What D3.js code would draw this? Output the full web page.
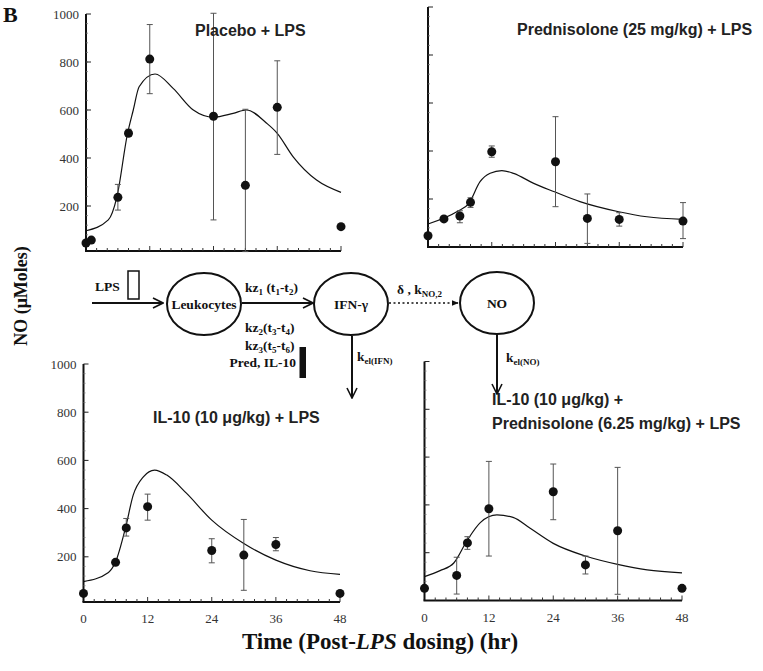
<!DOCTYPE html>
<html>
<head>
<meta charset="utf-8">
<title>NO response model</title>
<script src="https://d3js.org/d3.v7.min.js"></script>
<style>
  body { margin: 0; background: #fff; }
  .tick-lab { font-family: "Liberation Serif", serif; font-size: 13px; fill: #333; }
  .title { font-family: "Liberation Sans", Arial, sans-serif; font-weight: bold; font-size: 16px; fill: #222; }
  .fit { fill: none; stroke: #111; stroke-width: 1.2px; }
  .err { stroke: #555; stroke-width: 1px; }
  .diag { font-family: "Liberation Serif", serif; font-weight: bold; font-size: 13.5px; fill: #111; }
</style>
</head>
<body>
<svg width="763" height="671"></svg>
<script>
// times in hr, NO in uMoles
var placeboT   = [0, 1, 6, 8, 12, 24, 30, 36, 48];
var placeboObs = [46, 58, 236, 503, 812, 574, 286, 611, 114];
var placeboHi  = [null, null, 290, 520, 956, 1003, 603, 805, null];
var placeboLo  = [null, null, 183, 490, 668, 142, 10, 415, null];
var placeboFitT = [0, 4.2, 5.8, 7.8, 8.9, 10, 13, 16.4, 20.2, 24, 27.7, 30.2, 34, 36, 39, 43.4, 48];
var placeboFitV = [97, 142, 236, 500, 600, 697, 750, 690, 600, 570, 586, 600, 545, 503, 405, 308, 257];

var predT   = [0, 3, 6, 8, 12, 24, 30, 36, 48];
var predObs = [47, 117, 129, 186, 397, 355, 119, 115, 108];
var predHi  = [null, null, 151, 205, 421, 543, 221, 143, 185];
var predLo  = [null, null, 101, 165, 374, 168, 15, 87, 35];
var predFitT = [0, 5.5, 7.7, 9.8, 11.7, 13.9, 16.1, 19.9, 23.8, 28.6, 35.9, 41.2, 48];
var predFitV = [96, 148, 182, 272, 307, 318, 307, 265, 230, 189, 147, 126, 115];

var il10T   = [0, 6, 8, 12, 24, 30, 36, 48];
var il10Obs = [48, 177, 320, 408, 226, 207, 251, 48];
var il10Hi  = [null, null, 359, 460, 275, 355, 280, null];
var il10Lo  = [null, null, 286, 352, 175, 61, 225, null];
var il10FitT = [0, 4.67, 6, 7.9, 9.3, 11.2, 13.3, 15.6, 19.3, 24, 30, 36, 42.4, 48];
var il10FitV = [97, 135, 179, 324, 456, 532, 560, 539, 463, 352, 255, 186, 142, 127];

var comboT   = [0, 6, 8, 12, 24, 30, 36, 48];
var comboObs = [51, 105, 241, 384, 455, 149, 292, 51];
var comboHi  = [null, 181, 267, 582, 571, 186, 557, null];
var comboLo  = [null, 27, 214, 186, 338, 111, 26, null];
var comboFitT = [0, 2.9, 5.5, 8, 10.4, 13.5, 16.5, 19.7, 24, 30, 36, 41.5, 48];
var comboFitV = [100, 125, 158, 253, 326, 358, 348, 302, 239, 186, 151, 128, 116];

var xTickLabels = [0, 12, 24, 36, 48];
var yTickLabels = [200, 400, 600, 800, 1000];

var svg = d3.select("svg");

var panels = [
  {x0: 86, x1: 341, yZero: 254, yTop: 14, axisY: 251, ylab: true, xlab: false,
   t: placeboT, obs: placeboObs, hi: placeboHi, lo: placeboLo, ft: placeboFitT, fv: placeboFitV,
   title: ["Placebo + LPS"], tx: 195, ty: 36},
  {x0: 428, x1: 683, yZero: 247, yTop: 7, axisY: 247, ylab: false, xlab: false,
   t: predT, obs: predObs, hi: predHi, lo: predLo, ft: predFitT, fv: predFitV,
   title: ["Prednisolone (25 mg/kg) + LPS"], tx: 517, ty: 35},
  {x0: 83.5, x1: 340, yZero: 605, yTop: 364, axisY: 602, ylab: true, xlab: true,
   t: il10T, obs: il10Obs, hi: il10Hi, lo: il10Lo, ft: il10FitT, fv: il10FitV,
   title: ["IL-10 (10 \u03bcg/kg) + LPS"], tx: 153, ty: 423},
  {x0: 424.5, x1: 682, yZero: 600.5, yTop: 361.5, axisY: 600.5, ylab: false, xlab: true,
   t: comboT, obs: comboObs, hi: comboHi, lo: comboLo, ft: comboFitT, fv: comboFitV,
   title: ["IL-10 (10 \u03bcg/kg) +", "Prednisolone (6.25 mg/kg) + LPS"], tx: 492, ty: 405}
];

panels.forEach(function(p){
  var x = d3.scaleLinear().domain([0, 48]).range([p.x0, p.x1]);
  var y = d3.scaleLinear().domain([0, 1000]).range([p.yZero, p.yTop]);
  var g = svg.append("g");

  // y axis: line, major ticks every 200, minor every 40 (inward)
  g.append("line").attr("x1", p.x0).attr("x2", p.x0)
    .attr("y1", y(1000)).attr("y2", p.axisY)
    .style("stroke", "#111").style("stroke-width", 2);
  g.selectAll(".ymin").data(d3.range(40, 1000, 40)).enter().append("line")
    .attr("x1", p.x0).attr("x2", p.x0 + 2)
    .attr("y1", function(d){ return y(d); }).attr("y2", function(d){ return y(d); })
    .style("stroke", "#777").style("stroke-width", 0.8);
  g.selectAll(".ymaj").data(yTickLabels).enter().append("line")
    .attr("x1", p.x0).attr("x2", p.x0 + 5)
    .attr("y1", function(d){ return y(d); }).attr("y2", function(d){ return y(d); })
    .style("stroke", "#222").style("stroke-width", 1);
  if (p.ylab) {
    g.selectAll(".ylab").data(yTickLabels).enter().append("text")
      .attr("class", "tick-lab")
      .attr("x", p.x0 - 7).attr("y", function(d){ return y(d) + 4.5; })
      .attr("text-anchor", "end").text(function(d){ return d; });
  }

  // x axis: ticks every 2 hr, up
  g.append("line").attr("x1", p.x0 - 1).attr("x2", p.x1)
    .attr("y1", p.axisY).attr("y2", p.axisY)
    .style("stroke", "#111").style("stroke-width", 2);
  g.selectAll(".xt").data(d3.range(2, 49, 2)).enter().append("line")
    .attr("x1", function(d){ return x(d); }).attr("x2", function(d){ return x(d); })
    .attr("y1", p.axisY).attr("y2", function(d){ return p.axisY - (d % 12 === 0 ? 5 : 3); })
    .style("stroke", "#333").style("stroke-width", 1);
  if (p.xlab) {
    g.selectAll(".xlab").data(xTickLabels).enter().append("text")
      .attr("class", "tick-lab")
      .attr("x", function(d){ return x(d); }).attr("y", p.axisY + 21)
      .attr("text-anchor", "middle").text(function(d){ return d; });
  }

  // fitted curve
  var fit = p.ft.map(function(t, i){ return [t, p.fv[i]]; });
  g.append("path").attr("class", "fit")
    .attr("d", d3.line().x(function(d){ return x(d[0]); }).y(function(d){ return y(d[1]); })
      .curve(d3.curveMonotoneX)(fit));

  // error bars
  var obs = p.t.map(function(t, i){ return {t: t, v: p.obs[i], hi: p.hi[i], lo: p.lo[i]}; });
  var eb = obs.filter(function(d){ return d.hi !== null; });
  g.selectAll(".ev").data(eb).enter().append("line").attr("class", "err")
    .attr("x1", function(d){ return x(d.t); }).attr("x2", function(d){ return x(d.t); })
    .attr("y1", function(d){ return y(d.hi); })
    .attr("y2", function(d){ return Math.min(y(d.lo), p.axisY); });
  ["hi", "lo"].forEach(function(k){
    g.selectAll(".cap" + k).data(eb).enter().append("line").attr("class", "err")
      .attr("x1", function(d){ return x(d.t) - 3; }).attr("x2", function(d){ return x(d.t) + 3; })
      .attr("y1", function(d){ return y(d[k]); }).attr("y2", function(d){ return y(d[k]); });
  });

  // observations
  g.selectAll(".pt").data(obs).enter().append("circle")
    .attr("cx", function(d){ return x(d.t); }).attr("cy", function(d){ return y(d.v); })
    .attr("r", 4.5).style("fill", "#111");

  // panel title
  g.selectAll(".ttl").data(p.title).enter().append("text").attr("class", "title")
    .attr("x", p.tx).attr("y", function(d, i){ return p.ty + i * 24; })
    .text(function(d){ return d; });
});

// ---- model diagram ----
var defs = svg.append("defs");
defs.append("marker").attr("id", "open").attr("viewBox", "0 0 12 12")
  .attr("refX", 11).attr("refY", 6).attr("markerWidth", 12).attr("markerHeight", 12)
  .attr("markerUnits", "userSpaceOnUse").attr("orient", "auto")
  .append("path").attr("d", "M1,1 L11,6 L1,11").style("fill", "none")
  .style("stroke", "#111").style("stroke-width", 1.6);
defs.append("marker").attr("id", "solid").attr("viewBox", "0 0 10 10")
  .attr("refX", 9).attr("refY", 5).attr("markerWidth", 7).attr("markerHeight", 7)
  .attr("markerUnits", "userSpaceOnUse").attr("orient", "auto")
  .append("path").attr("d", "M0,1 L10,5 L0,9 Z").style("fill", "#111");

var nodes = [
  {name: "Leukocytes", cx: 204, cy: 304},
  {name: "IFN-\u03b3", cx: 351, cy: 304},
  {name: "NO", cx: 497, cy: 303}
];
svg.selectAll(".node").data(nodes).enter().append("ellipse")
  .attr("cx", function(d){ return d.cx; }).attr("cy", function(d){ return d.cy; })
  .attr("rx", 37).attr("ry", 31)
  .style("fill", "none").style("stroke", "#111").style("stroke-width", 2);
svg.selectAll(".nodelab").data(nodes).enter().append("text").attr("class", "diag")
  .attr("x", function(d){ return d.cx; }).attr("y", function(d){ return d.cy + 4.5; })
  .attr("text-anchor", "middle").style("font-size", "13.5px")
  .text(function(d){ return d.name; });

var arrows = [
  {x1: 92, y1: 303, x2: 163, y2: 303, m: "open", dash: null},
  {x1: 242, y1: 303, x2: 313, y2: 303, m: "open", dash: null},
  {x1: 389, y1: 303, x2: 458, y2: 303, m: "solid", dash: "2,2.5"},
  {x1: 352, y1: 336, x2: 352, y2: 398, m: "open", dash: null},
  {x1: 497, y1: 334, x2: 497, y2: 394, m: "open", dash: null}
];
svg.selectAll(".arr").data(arrows).enter().append("line")
  .attr("x1", function(d){ return d.x1; }).attr("y1", function(d){ return d.y1; })
  .attr("x2", function(d){ return d.x2; }).attr("y2", function(d){ return d.y2; })
  .attr("marker-end", function(d){ return "url(#" + d.m + ")"; })
  .style("stroke", "#111").style("stroke-width", function(d){ return d.dash ? 1.5 : 2; })
  .style("stroke-dasharray", function(d){ return d.dash; });

// LPS bolus and inhibition bar
svg.append("rect").attr("x", 128).attr("y", 271).attr("width", 11).attr("height", 28)
  .style("fill", "#fff").style("stroke", "#111").style("stroke-width", 1.5);
svg.append("rect").attr("x", 299.5).attr("y", 347).attr("width", 6.5).attr("height", 31)
  .style("fill", "#111");

function subLabel(x, y, parts, anchor) {
  var t = svg.append("text").attr("class", "diag").attr("x", x).attr("y", y)
    .attr("text-anchor", anchor || "start");
  parts.forEach(function(p){
    var s = t.append("tspan").text(p[0]);
    if (p[1] === "sub") s.style("font-size", "9px").attr("baseline-shift", "-3");
  });
  return t;
}
subLabel(95, 291, [["LPS"]]);
subLabel(245, 292, [["kz"], ["1", "sub"], [" (t"], ["1", "sub"], ["-t"], ["2", "sub"], [")"]]);
subLabel(245, 332, [["kz"], ["2", "sub"], ["(t"], ["3", "sub"], ["-t"], ["4", "sub"], [")"]]);
subLabel(245, 350, [["kz"], ["3", "sub"], ["(t"], ["5", "sub"], ["-t"], ["6", "sub"], [")"]]);
subLabel(296, 367, [["Pred, IL-10"]], "end");
subLabel(397, 294, [["\u03b4 , k"], ["NO,2", "sub"]]);
subLabel(357, 361, [["k"], ["el(IFN)", "sub"]]);
subLabel(506, 362, [["k"], ["el(NO)", "sub"]]);

// figure labels
svg.append("text").attr("x", 3).attr("y", 22)
  .style("font-family", "Liberation Serif, serif").style("font-weight", "bold")
  .style("font-size", "22px").style("fill", "#111").text("B");
svg.append("text").attr("transform", "translate(27,296) rotate(-90)")
  .attr("text-anchor", "middle")
  .style("font-family", "Liberation Serif, serif").style("font-weight", "bold")
  .style("font-size", "18px").style("fill", "#111").text("NO (\u03bcMoles)");
var xl = svg.append("text").attr("x", 380).attr("y", 649).attr("text-anchor", "middle")
  .style("font-family", "Liberation Serif, serif").style("font-weight", "bold")
  .style("font-size", "23px").style("fill", "#111");
xl.append("tspan").text("Time (Post-");
xl.append("tspan").style("font-style", "italic").text("LPS");
xl.append("tspan").text(" dosing) (hr)");
</script>
</body>
</html>
